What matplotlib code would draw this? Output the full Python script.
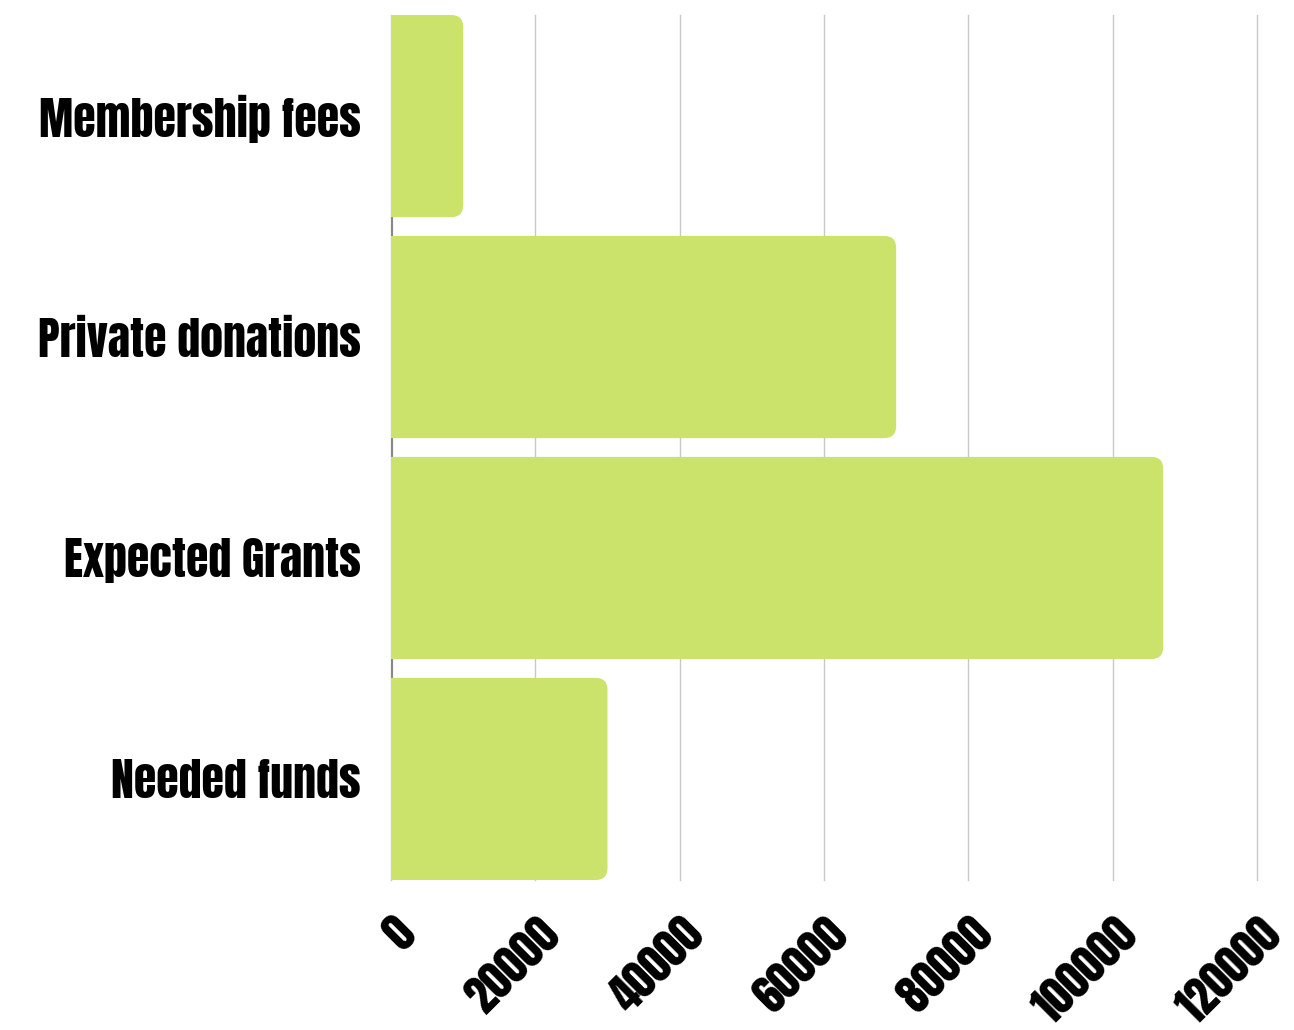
import matplotlib
matplotlib.use("Agg")
import matplotlib.pyplot as plt
from matplotlib.patches import FancyBboxPatch
from matplotlib.transforms import ScaledTranslation

# data
categories = ["Membership fees", "Private donations", "Expected Grants", "Needed funds"]
amounts = [10000, 70000, 107000, 30000]
x_ticks = [0, 20000, 40000, 60000, 80000, 100000, 120000]

bar_color = "#cbe36a"
font = ["Anton", "DejaVu Sans"]

fig = plt.figure(figsize=(12.94, 10.30), dpi=100)
ax = fig.add_axes([391 / 1294, 1 - 880 / 1030, (1257 - 391) / 1294, (880 - 15) / 1030])

h = 0.915
bars = ax.barh(range(len(categories)), amounts, height=h, color=bar_color, zorder=2)
ax.set_xlim(0, 120000)
ax.set_ylim(len(categories) - 1 + h / 2, -h / 2)

# swap plain bars for ones with rounded ends
fig.canvas.draw()
bbox = ax.get_window_extent()
x_per_px = 120000 / bbox.width
y_per_px = (len(categories) - 1 + h) / bbox.height
r = 12 * x_per_px
for b in bars:
    b.set_visible(False)
    p = FancyBboxPatch((b.get_x() - 3 * r, b.get_y()), b.get_width() + 3 * r, b.get_height(),
                       boxstyle="round,pad=0,rounding_size=%f" % r,
                       mutation_aspect=y_per_px / x_per_px,
                       facecolor=bar_color, edgecolor="none", zorder=2)
    ax.add_patch(p)

ax.axvline(0, color="#888888", lw=3, zorder=1)

ax.set_xticks(x_ticks)
ax.set_xticklabels([str(t) for t in x_ticks], rotation=45, ha="right", va="center",
                   rotation_mode="anchor", family=font, fontsize=32)
ax.set_yticks(range(len(categories)))
ax.set_yticklabels(categories, family=font, fontsize=33)
ax.tick_params(axis="both", length=0)
ax.tick_params(axis="y", pad=22)
ax.tick_params(axis="x", pad=33)
for lab in ax.get_xticklabels():
    lab.set_transform(lab.get_transform() + ScaledTranslation(0.16, 0, fig.dpi_scale_trans))

ax.grid(axis="x", color="#c8c8c8", lw=1, zorder=0)
ax.set_axisbelow(True)
for l in ax.get_xgridlines():
    l.set_clip_on(False)
for s in ax.spines.values():
    s.set_visible(False)

fig.savefig("out.png", dpi=100)
